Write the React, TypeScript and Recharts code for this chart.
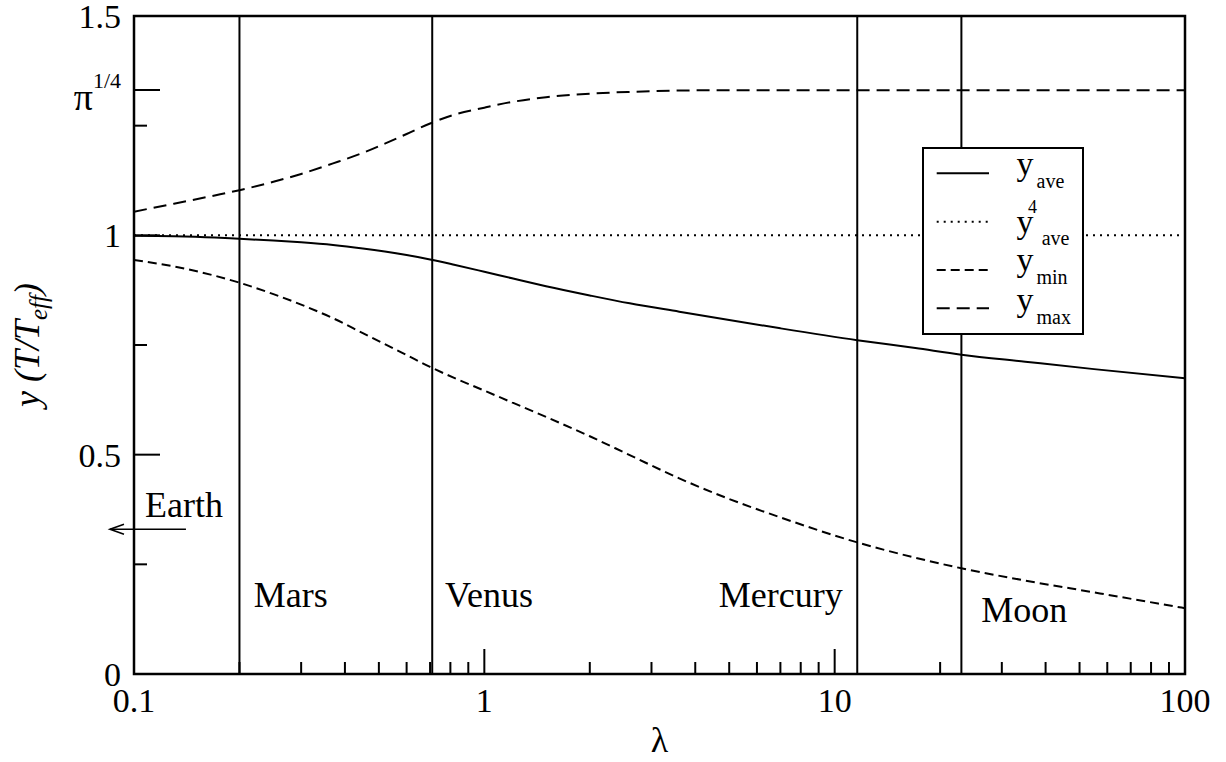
import React from 'react';
import {
  LineChart,
  Line,
  XAxis,
  YAxis,
  ReferenceLine,
  ReferenceArea,
  ReferenceDot,
  Legend,
} from 'recharts';

// ---------- data ----------
const lambda = [0.1, 0.13, 0.17, 0.2, 0.25, 0.3, 0.37, 0.45, 0.52, 0.6, 0.7, 0.82, 1, 1.2, 1.5, 2, 2.6, 3.6, 5, 7, 11.6, 17, 23, 35, 55, 100];
const yAve = [0.999, 0.998, 0.995, 0.992, 0.988, 0.984, 0.978, 0.97, 0.963, 0.955, 0.945, 0.933, 0.917, 0.902, 0.884, 0.863, 0.845, 0.826, 0.807, 0.788, 0.761, 0.743, 0.728, 0.712, 0.695, 0.674];
const yAve4 = [1, 1, 1, 1, 1, 1, 1, 1, 1, 1, 1, 1, 1, 1, 1, 1, 1, 1, 1, 1, 1, 1, 1, 1, 1, 1];
const yMin = [0.944, 0.929, 0.908, 0.892, 0.866, 0.842, 0.811, 0.777, 0.752, 0.727, 0.7, 0.675, 0.646, 0.619, 0.586, 0.542, 0.499, 0.446, 0.399, 0.357, 0.3, 0.265, 0.241, 0.213, 0.186, 0.15];
const yMax = [1.054, 1.072, 1.091, 1.103, 1.122, 1.14, 1.164, 1.188, 1.209, 1.231, 1.255, 1.275, 1.291, 1.304, 1.315, 1.323, 1.327, 1.33, 1.331, 1.331, 1.331, 1.331, 1.331, 1.331, 1.331, 1.331];

const xMajorTicks = [0.1, 1, 10, 100];
const xTickLabels = ['0.1', '1', '10', '100'];
const xMinorTicks = [0.2, 0.3, 0.4, 0.5, 0.6, 0.7, 0.8, 0.9, 2, 3, 4, 5, 6, 7, 8, 9, 20, 30, 40, 50, 60, 70, 80, 90];

const yMajorTicks = [0, 0.5, 1, 1.5];
const yTickLabels = ['0', '0.5', '1', '1.5'];
const piQuarterTick = 1.3313;
const yMinorTicks = [0.25, 0.75, 1.25];

const planetNames = ['Mars', 'Venus', 'Mercury', 'Moon'];
const planetLambda = [0.2, 0.71, 11.6, 23];

// annotation texts (data coordinates)
const noteTexts = ['Earth', 'Mars', 'Venus', 'Mercury', 'Moon'];
const noteLambda = [0.1075, 0.2198, 0.772, 4.67, 26.2];
const noteY = [0.359, 0.152, 0.152, 0.152, 0.119];

// Earth arrow (data coordinates)
const arrowLambda = [0.1407, 0.0854];
const arrowY = [0.33, 0.33];

const legendSubs = ['ave', 'ave', 'min', 'max'];

// ---------- build table ----------
const data = lambda.map((l, i) => ({
  lambda: l,
  yAve: yAve[i],
  yAve4: yAve4[i],
  yMin: yMin[i],
  yMax: yMax[i],
}));

const FONT = '"Liberation Serif", "Times New Roman", Times, serif';
const near = (a: number, b: number) => Math.abs(a - b) < 1e-6;

const allXTicks = [...xMajorTicks, ...xMinorTicks].sort((a, b) => a - b);
const allYTicks = [...yMajorTicks, ...yMinorTicks, piQuarterTick].sort((a, b) => a - b);

const DASH_MIN = '9 5';
const DASH_MAX = '13 7';
const DASH_DOT = '2 5';

// ---------- ticks ----------
function BottomTick(props: any) {
  const { x, y, payload } = props;
  const idx = xMajorTicks.findIndex((t) => near(t, payload.value));
  const major = idx >= 0;
  return (
    <g>
      <line x1={x} x2={x} y1={y} y2={y - (major ? 25 : 12)} stroke="#000" strokeWidth={2} />
      {major && (
        <text x={x} y={y + 38} textAnchor="middle" fontFamily={FONT} fontSize={34} fill="#000">
          {xTickLabels[idx]}
        </text>
      )}
    </g>
  );
}

function TopTick(props: any) {
  const { x, y, payload } = props;
  const major = xMajorTicks.some((t) => near(t, payload.value));
  return <line x1={x} x2={x} y1={y} y2={y + (major ? 25 : 12)} stroke="#000" strokeWidth={2} />;
}

function LeftTick(props: any) {
  const { x, y, payload } = props;
  const v = payload.value;
  const mi = yMajorTicks.findIndex((t) => near(t, v));
  const isPi = near(v, piQuarterTick);
  const major = mi >= 0 || isPi;
  return (
    <g>
      <line x1={x} x2={x + (major ? 26 : 13)} y1={y} y2={y} stroke="#000" strokeWidth={2} />
      {mi >= 0 && (
        <text x={x - 13} y={y + 12} textAnchor="end" fontFamily={FONT} fontSize={34} fill="#000">
          {yTickLabels[mi]}
        </text>
      )}
      {isPi && (
        <text x={x - 13} y={y + 20} textAnchor="end" fontFamily={FONT} fontSize={38} fill="#000">
          <tspan>π</tspan>
          <tspan dy={-22} fontSize={22}>1/4</tspan>
        </text>
      )}
    </g>
  );
}

function RightTick(props: any) {
  const { x, y, payload } = props;
  const v = payload.value;
  const major = yMajorTicks.some((t) => near(t, v)) || near(v, piQuarterTick);
  return <line x1={x} x2={x - (major ? 26 : 13)} y1={y} y2={y} stroke="#000" strokeWidth={2} />;
}

// ---------- axis labels ----------
function YTitle(props: any) {
  const vb = props.viewBox || { x: 34, y: 16, width: 100, height: 658 };
  const cx = vb.x + 5;
  const cy = vb.y + vb.height / 2;
  return (
    <text
      transform={`rotate(-90 ${cx} ${cy})`}
      x={cx}
      y={cy}
      textAnchor="middle"
      fontFamily={FONT}
      fontSize={36}
      fontStyle="italic"
      fill="#000"
    >
      <tspan>y (T/T</tspan>
      <tspan fontSize={25} dy={8}>eff</tspan>
      <tspan dy={-8}>)</tspan>
    </text>
  );
}

function XTitle(props: any) {
  const vb = props.viewBox || { x: 134, y: 674, width: 1051, height: 60 };
  return (
    <text x={vb.x + vb.width / 2} y={vb.y + 78} textAnchor="middle" fontFamily={FONT} fontSize={36} fill="#000">
      λ
    </text>
  );
}

// ---------- legend ----------
function LegendBox() {
  const sampleY = [26.3, 74.7, 123, 161.3];
  const dashes = [undefined, DASH_DOT, DASH_MIN, DASH_MAX];
  const yBase = [27.5, 85.5, 124, 164];
  const subBase = [40.5, 98, 137, 177];
  const subX = [114.5, 119.7, 114.5, 114.5];
  return (
    <svg width={164} height={190} style={{ display: 'block', overflow: 'visible' }}>
      <rect x={1} y={1} width={160} height={186} fill="#fff" stroke="#000" strokeWidth={2} />
      {legendSubs.map((s, i) => (
        <g key={i}>
          <line x1={14.7} x2={67} y1={sampleY[i]} y2={sampleY[i]} stroke="#000" strokeWidth={2} strokeDasharray={dashes[i]} />
          <text x={94.5} y={yBase[i]} fontFamily={FONT} fontSize={34} fill="#000">y</text>
          {i === 1 && (
            <text x={106} y={66} fontFamily={FONT} fontSize={18} fill="#000">4</text>
          )}
          <text x={subX[i]} y={subBase[i]} fontFamily={FONT} fontSize={20} fill="#000">{s}</text>
        </g>
      ))}
    </svg>
  );
}

// ---------- shapes ----------
const ArrowShape = (p: any) => {
  const { x1, y1, x2, y2 } = p;
  return (
    <g>
      <line x1={x1} y1={y1} x2={x2} y2={y2} stroke="#000" strokeWidth={1.6} />
      <polyline
        points={`${x2 + 14},${y2 - 5} ${x2},${y2} ${x2 + 14},${y2 + 5}`}
        fill="none"
        stroke="#000"
        strokeWidth={1.6}
      />
    </g>
  );
};

export default function App() {
  return (
    <div style={{ position: 'absolute', left: 0, top: 0, width: 1226, height: 762 }}>
      <LineChart
        width={1226}
        height={762}
        data={data}
        margin={{ top: 16, right: 41, bottom: 28, left: 34 }}
      >
        <XAxis
          dataKey="lambda"
          type="number"
          scale="log"
          domain={[0.1, 100]}
          allowDataOverflow
          ticks={allXTicks}
          interval={0}
          height={60}
          axisLine={false}
          tickLine={false}
          tickSize={0}
          tickMargin={0}
          tick={BottomTick}
          label={<XTitle />}
        />
        <XAxis
          xAxisId="top"
          orientation="top"
          dataKey="lambda"
          type="number"
          scale="log"
          domain={[0.1, 100]}
          allowDataOverflow
          ticks={allXTicks}
          interval={0}
          height={0}
          axisLine={false}
          tickLine={false}
          tickSize={0}
          tickMargin={0}
          tick={TopTick}
        />
        <YAxis
          type="number"
          domain={[0, 1.5]}
          allowDataOverflow
          ticks={allYTicks}
          interval={0}
          width={100}
          axisLine={false}
          tickLine={false}
          tickSize={0}
          tickMargin={0}
          tick={LeftTick}
          label={<YTitle />}
        />
        <YAxis
          yAxisId="right"
          orientation="right"
          type="number"
          domain={[0, 1.5]}
          allowDataOverflow
          ticks={allYTicks}
          interval={0}
          width={0}
          axisLine={false}
          tickLine={false}
          tickSize={0}
          tickMargin={0}
          tick={RightTick}
        />

        {planetLambda.map((l, i) => (
          <ReferenceLine key={planetNames[i]} x={l} stroke="#000" strokeWidth={2} />
        ))}

        <Line type="monotone" dataKey="yAve4" stroke="#000" strokeWidth={2} strokeDasharray={DASH_DOT} dot={false} activeDot={false} isAnimationActive={false} />
        <Line type="monotone" dataKey="yAve" stroke="#000" strokeWidth={2} dot={false} activeDot={false} isAnimationActive={false} />
        <Line type="monotone" dataKey="yMin" stroke="#000" strokeWidth={2} strokeDasharray={DASH_MIN} dot={false} activeDot={false} isAnimationActive={false} />
        <Line type="monotone" dataKey="yMax" stroke="#000" strokeWidth={2} strokeDasharray={DASH_MAX} dot={false} activeDot={false} isAnimationActive={false} />

        <ReferenceArea x1={0.1} x2={100} y1={0} y2={1.5} fill="none" fillOpacity={0} stroke="#000" strokeWidth={2.5} strokeOpacity={1} />

        <ReferenceLine
          segment={[
            { x: arrowLambda[0], y: arrowY[0] },
            { x: arrowLambda[1], y: arrowY[1] },
          ]}
          ifOverflow="visible"
          shape={ArrowShape}
        />

        {noteTexts.map((t, i) => (
          <ReferenceDot
            key={t}
            x={noteLambda[i]}
            y={noteY[i]}
            r={0}
            ifOverflow="visible"
            shape={(p: any) => (
              <text x={p.cx} y={p.cy} fontFamily={FONT} fontSize={36} fill="#000">
                {t}
              </text>
            )}
          />
        ))}

        <Legend
          layout="vertical"
          align="center"
          verticalAlign="middle"
          content={<LegendBox />}
          wrapperStyle={{ left: 922, top: 147, width: 164, height: 190 }}
        />
      </LineChart>
    </div>
  );
}
